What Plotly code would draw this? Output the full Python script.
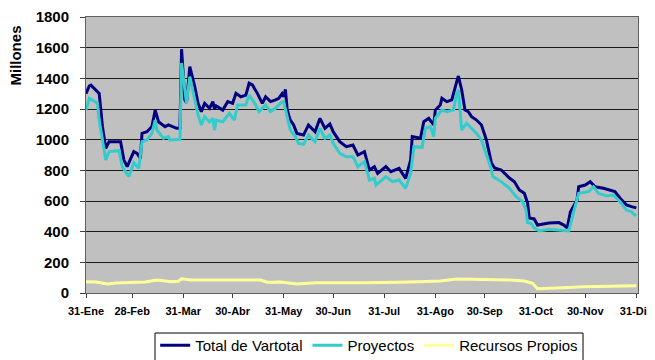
import pandas as pd
import plotly.graph_objects as go

# ---- data (day of year 2006, values in millones) ----
total_day = [31, 33, 34, 38, 39, 41, 43, 45, 52, 54, 56, 60, 62, 64, 65, 68, 71, 73, 75, 79, 81, 86, 88,
             89, 91, 92, 94, 97, 99, 101, 103, 106, 108, 109, 110, 114, 117, 120, 122, 125, 128, 130, 132,
             135, 138, 140, 143, 146, 148, 150, 151, 152, 153, 154, 155, 157, 159, 163, 166, 170, 173, 176,
             179, 181, 185, 189, 193, 196, 200, 203, 206, 208, 213, 216, 221, 225, 228, 229, 234, 236, 239,
             242, 243, 246, 247, 250, 253, 256, 257, 259, 261, 263, 265, 268, 271, 274, 276, 277, 279, 283,
             288, 291, 294, 297, 299, 300, 303, 305, 312, 318, 321, 323, 325, 329, 330, 334, 337, 340, 345,
             348, 352, 355, 359, 362, 365]
total_val = [1300, 1350, 1356, 1313, 1302, 1085, 943, 987, 987, 867, 824, 922, 911, 878, 1041, 1052, 1085,
             1193, 1117, 1085, 1096, 1074, 1074,
             1590, 1259, 1240, 1476, 1346, 1237, 1183, 1237, 1205, 1248, 1200, 1220, 1193, 1248, 1237, 1302,
             1280, 1291, 1368, 1357, 1302, 1237, 1280, 1248, 1259, 1270, 1300, 1280, 1328, 1205, 1160, 1128,
             1096, 1041, 1030, 1096, 1052, 1139, 1074, 1102, 1052, 987, 954, 965, 900, 922, 802, 824, 780,
             824, 791, 813, 748, 867, 1020, 1009, 1117, 1139, 1096, 1193, 1226, 1270, 1248, 1259, 1378, 1415,
             1324, 1193, 1183, 1150, 1128, 1096, 998, 900, 850, 815, 802, 750, 726, 672, 650, 587, 489, 483,
             443, 456, 459, 443, 424, 530, 607, 693, 704, 726, 693, 683, 672, 661, 620, 574, 563, 555]

proy_day = [31, 33, 38, 39, 43, 45, 51, 53, 57, 60, 63, 65, 68, 71, 73, 74, 78, 81, 82, 88, 89, 92, 94, 99,
            101, 103, 106, 108, 109, 110, 114, 118, 121, 123, 128, 130, 134, 136, 140, 143, 146, 150, 151,
            153, 155, 158, 160, 163, 166, 170, 173, 176, 179, 181, 185, 189, 193, 196, 200, 203, 206, 207,
            213, 217, 221, 225, 228, 230, 235, 237, 240, 242, 243, 247, 250, 254, 256, 257, 259, 262, 265,
            268, 271, 274, 276, 278, 283, 288, 292, 296, 298, 299, 301, 303, 306, 312, 318, 324, 327, 330,
            336, 339, 342, 347, 351, 355, 359, 362, 364, 365]
proy_val = [1193, 1270, 1237, 1128, 867, 922, 928, 824, 759, 850, 813, 987, 998, 1041, 1128, 1063, 1009,
            1020, 998, 1002, 1500, 1237, 1411, 1161, 1096, 1150, 1117, 1139, 1063, 1128, 1117, 1172, 1128,
            1226, 1226, 1291, 1226, 1183, 1226, 1183, 1205, 1248, 1248, 1150, 1063, 1020, 976, 970, 1030,
            987, 1074, 1009, 1030, 976, 911, 889, 889, 824, 857, 737, 748, 704, 759, 726, 737, 683, 780,
            954, 950, 1074, 1085, 1020, 1139, 1193, 1183, 1193, 1302, 1324, 1063, 1107, 1074, 1041, 998,
            911, 840, 759, 726, 683, 628, 596, 541, 460, 455, 425, 405, 415, 410, 405, 530, 650, 661, 693,
            650, 633, 639, 596, 541, 530, 509, 515]

rec_day = [31, 37, 44, 49, 62, 67, 74, 79, 83, 87, 89, 95, 137, 141, 149, 159, 167, 171, 200, 209, 215, 221,
           233, 240, 246, 256, 267, 276, 288, 297, 302, 305, 315, 324, 333, 342, 348, 357, 365]
rec_val = [74, 72, 59, 65, 70, 72, 85, 78, 74, 76, 93, 85, 85, 70, 72, 59, 62, 67, 67, 67, 70, 70,
           74, 78, 78, 91, 88, 90, 85, 78, 63, 28, 30, 36, 40, 41, 46, 44, 48]

tick_dates = ["2006-01-31", "2006-02-28", "2006-03-31", "2006-04-30", "2006-05-31", "2006-06-30",
              "2006-07-31", "2006-08-31", "2006-09-30", "2006-10-31", "2006-11-30", "2006-12-31"]
tick_labels = ["31-Ene", "28-Feb", "31-Mar", "30-Abr", "31-May", "30-Jun",
               "31-Jul", "31-Ago", "30-Sep", "31-Oct", "30-Nov", "31-Dic"]
y_ticks = [0, 200, 400, 600, 800, 1000, 1200, 1400, 1600, 1800]

base = pd.Timestamp("2006-01-01")
to_dates = lambda days: [base + pd.Timedelta(days=d - 1) for d in days]

fig = go.Figure()
fig.add_trace(go.Scatter(x=to_dates(total_day), y=total_val, mode="lines", name="Total de Vartotal",
                         line=dict(color="#000080", width=3)))
fig.add_trace(go.Scatter(x=to_dates(proy_day), y=proy_val, mode="lines", name="Proyectos",
                         line=dict(color="#33CCCC", width=3)))
fig.add_trace(go.Scatter(x=to_dates(rec_day), y=rec_val, mode="lines", name="Recursos Propios",
                         line=dict(color="#FFFF99", width=3)))

font_family = "Liberation Sans, Arial, sans-serif"
fig.update_layout(
    width=647, height=352,
    margin=dict(l=78, r=17, t=9, b=67, autoexpand=False),
    paper_bgcolor="white", plot_bgcolor="#C0C0C0",
    font=dict(family=font_family, color="black"),
    showlegend=True,
    legend=dict(orientation="h", x=0.513, xanchor="center", y=-0.130, yanchor="top",
                bgcolor="rgba(0,0,0,0)", borderwidth=0,
                font=dict(size=15, family=font_family), itemwidth=30),
    xaxis=dict(type="date", range=["2006-01-31", "2007-01-01"], tickvals=tick_dates,
               ticktext=["<b>%s</b>" % t for t in tick_labels],
               tickangle=0, ticks="outside", ticklen=4, tickcolor="#404040",
               tickfont=dict(size=11, family=font_family),
               showgrid=False, showline=True, linecolor="#606060", linewidth=1, mirror=True,
               ticklabelstandoff=4, zeroline=False),
    yaxis=dict(range=[0, 1800], tickvals=y_ticks, ticktext=["<b>%d</b>" % v for v in y_ticks],
               ticks="outside", ticklen=5, tickcolor="#404040",
               tickfont=dict(size=15, family=font_family),
               showgrid=True, gridcolor="#1a1a1a", gridwidth=1,
               showline=True, linecolor="#606060", linewidth=1, mirror=True,
               ticklabelstandoff=8, zeroline=False),
    shapes=[dict(type="rect", xref="paper", yref="paper", x0=0.125, x1=0.9004, y0=-0.145, y1=-0.26,
                 line=dict(color="#000000", width=1), fillcolor="white", layer="above")],
    annotations=[dict(text="<b>Millones</b>", xref="paper", yref="paper",
                      x=-0.127, y=0.86, xanchor="center", yanchor="middle",
                      textangle=-90, showarrow=False, font=dict(size=15, family=font_family))],
)

fig.write_html("out.html")
